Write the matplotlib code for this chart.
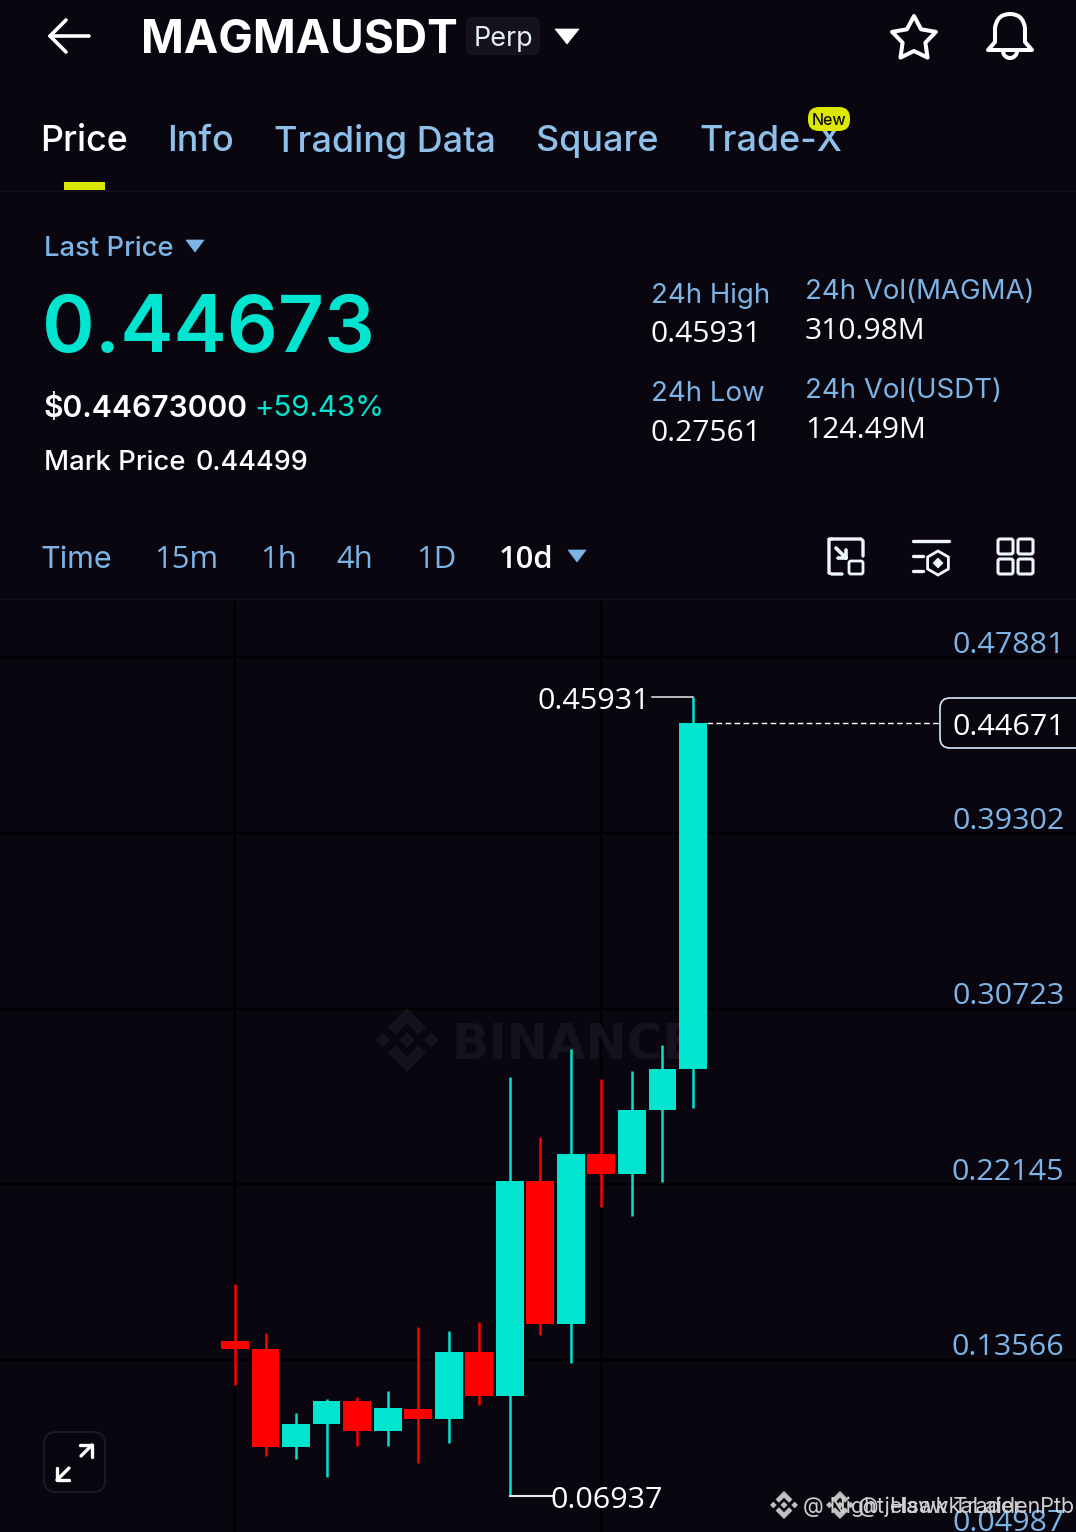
import numpy as np
import matplotlib
matplotlib.use("Agg")
import matplotlib.pyplot as plt
from matplotlib.patches import FancyBboxPatch, Polygon, Rectangle, PathPatch
from matplotlib.path import Path
from matplotlib.transforms import ScaledTranslation

plt.rcParams['font.family'] = ['Inter', 'DejaVu Sans']
NUM = ['Open Sans', 'DejaVu Sans']

BG = '#0A0610'; TEAL = '#00E4D0'; RED = '#FF0000'; BLUE = '#7DB4E6'; WHITE = '#FFFFFF'; YEL = '#DDE800'

opens = [.14489, .14112, .09295, .10434, .11542, .10077, .11181, .10692, .13936, .11802, .22320, .15334, .23624, .22662, .25759, .27777]
closes = [.14112, .09295, .10434, .11542, .10077, .11200, .10692, .13936, .11816, .22320, .15334, .23610, .22662, .25759, .27777, .44671]
highs = [.17273, .14865, .10956, .11669, .11738, .12060, .15173, .14962, .15417, .27401, .24440, .28769, .27303, .27665, .28964, .45931]
lows = [.12339, .08870, .08709, .07859, .09373, .09373, .08543, .09505, .11376, .06937, .14782, .13428, .21020, .20595, .22242, .25872]
candle_colors = ['r', 'r', 't', 't', 'r', 't', 'r', 't', 'r', 't', 'r', 't', 'r', 't', 't', 't']
price_ticks = [.47881, .39302, .30723, .22145, .13566, .04987]
time_grid = [0, 12]
high_label = .45931; low_label = .06937; last_price = .44671
tabs = ['Price', 'Info', 'Trading Data', 'Square', 'Trade-X']
intervals = ['Time', '15m', '1h', '4h', '1D', '10d']

W, H = 1076, 1532
fig = plt.figure(figsize=(W/100, H/100), dpi=100, facecolor=BG)

# ---- chart axes: y is price, x is candle index (bottom runs past the screen edge)
top_px, bot_px = 600, 1545
ax = fig.add_axes([0, (H-bot_px)/H, 1, (bot_px-top_px)/H], facecolor=BG)
k = (.47881-.04987)/(1535.5-657.5)
sp = 30.53
for s in ax.spines.values():
    s.set_visible(False)
ax.set_xticks(time_grid); ax.set_xticklabels([])
ax.yaxis.tick_right()
ax.set_yticks(price_ticks)
ax.set_yticklabels([f'{v:.5f}' for v in price_ticks], ha='right', color=BLUE, fontsize=30.5*.72, family=NUM)
ax.set_ylim(.47881-(bot_px-657.5)*k, .47881+(657.5-top_px)*k)
ax.set_xlim(-235/sp, (W-235)/sp)
ax.tick_params(length=0, axis='y', pad=-8.2)
ax.tick_params(length=0, axis='x')
ax.grid(True, color='#000000', lw=1.6, zorder=0)
ax.set_axisbelow(True)
off = ScaledTranslation(0, .155, fig.dpi_scale_trans)
for lab in ax.get_yticklabels():
    lab.set_transform(lab.get_transform()+off)

xs = np.arange(len(opens))
cols = [TEAL if c == 't' else RED for c in candle_colors]
ax.vlines(xs, lows, highs, colors=cols, lw=1.8, zorder=3)
ax.bar(xs, np.abs(np.array(closes)-np.array(opens)), bottom=np.minimum(opens, closes), width=.91, color=cols, zorder=4)

# leaders
ax.plot([15, 13.67], [high_label, high_label], color='#E8E8E8', lw=1.1, zorder=5)
ax.plot([9, 10.4], [low_label, low_label], color='#E8E8E8', lw=1.5, zorder=5)
ax.plot([15.45, 23.1], [last_price, last_price], color=WHITE, lw=1, dashes=(4, 2.5), zorder=5)
ax.annotate(f'{high_label:.5f}', (13.6, high_label), xytext=(0, -3.2), textcoords='offset points', color=WHITE, fontsize=30.5*.72, ha='right', va='center', zorder=6, family=NUM)
ax.annotate(f'{low_label:.5f}', (10.35, low_label), xytext=(0, -3.5), textcoords='offset points', color=WHITE, fontsize=30.5*.72, ha='left', va='center', zorder=6, family=NUM)

# ---- overlay in screen pixels for the app chrome
ui = fig.add_axes([0, 0, 1, 1], facecolor='none')
ui.set_xlim(0, W); ui.set_ylim(H, 0); ui.axis('off')

def T(x, y, s, px, color=WHITE, weight='normal', ha='left', z=10, alpha=1, **kw):
    dx = .04*px if ha == 'left' else 0
    return ui.text(x-dx, y+.09*px, s, fontsize=px*.72, color=color, fontweight=weight, ha=ha, va='center', zorder=z, alpha=alpha, **kw)

def L(xs_, ys_, color=WHITE, lw=2.2, z=10):
    ui.plot(xs_, ys_, color=color, lw=lw, solid_capstyle='round', solid_joinstyle='round', zorder=z)

def RR(x0, y0, x1, y1, r, fc='none', ec='none', lw=1.5, z=9):
    ui.add_patch(FancyBboxPatch((x0+r, y0+r), x1-x0-2*r, y1-y0-2*r, boxstyle=f'round,pad={r},rounding_size={r}',
                                fc=fc, ec=ec, lw=lw, zorder=z))

def TRI(x0, x1, y0, y1, color):
    ui.add_patch(Polygon([(x0, y0), (x1, y0), ((x0+x1)/2, y1)], fc=color, ec=color, lw=.5, zorder=10, joinstyle='round'))

# header
L([50, 89], [36, 36], lw=2.6); L([66, 50, 66], [20, 36, 52], lw=2.6)
T(143, 36.5, 'MAGMAUSDT', 46, weight='bold')
RR(466, 17, 540, 55, 6, fc='#15121C')
T(475, 37, 'Perp', 27, color='#E4EEF8')
TRI(555, 579, 29, 44, WHITE)
a = np.linspace(-np.pi/2, 1.5*np.pi, 11)
r = np.where(np.arange(11) % 2 == 0, 23, 12)
ui.add_patch(Polygon(np.c_[914+r*np.cos(a), 39+r*np.sin(a)], fc='none', ec=WHITE, lw=2.9, joinstyle='round', zorder=10))
bell = Path([(988, 50), (995, 42), (995, 28), (997, 14), (1010, 14), (1023, 14), (1025, 28), (1025, 42), (1032, 50), (988, 50)],
            [Path.MOVETO, Path.LINETO, Path.LINETO, Path.CURVE3, Path.CURVE3, Path.CURVE3, Path.CURVE3, Path.LINETO, Path.LINETO, Path.CLOSEPOLY])
ui.add_patch(PathPatch(bell, fc='none', ec=WHITE, lw=2.9, zorder=10, joinstyle='round'))
tt = np.linspace(0, np.pi, 20)
L(1010+7*np.cos(tt), 51+7*np.sin(tt), lw=2.9)

# tabs
tab_x = [42, 169, 275, 537, 701]
for i, (x, s) in enumerate(zip(tab_x, tabs)):
    T(x, 138, s, 35.9, color=WHITE if i == 0 else '#8FC0EA', weight='medium')
ui.add_patch(Rectangle((64, 182), 41, 8, fc=YEL, zorder=10))
RR(808, 107, 850, 131, 11, fc=YEL, z=11)
T(829, 119, 'New', 16, color='#111111', ha='center', z=12, weight='medium')
L([0, W], [190.5, 190.5], color='#15121C', lw=1)
L([0, W], [598.5, 598.5], color='#15121C', lw=1)

# stats
T(45, 247, 'Last Price', 27.4, color=BLUE, weight='medium')
TRI(186, 204, 240, 252, BLUE)
T(45, 324, '0.44673', 80, color=TEAL, weight='semibold')
T(45, 406, '$0.44673000', 30, weight='semibold')
T(255, 406, '+59.43%', 29.5, color=TEAL)
T(45, 461, 'Mark Price', 27.5, weight='medium')
T(197, 461, '0.44499', 27, weight='medium')
stats = [(652, 293, '24h High', BLUE, None), (652, 332, '0.45931', WHITE, NUM), (806, 290, '24h Vol(MAGMA)', BLUE, None), (806, 329, '310.98M', WHITE, NUM),
         (652, 392, '24h Low', BLUE, None), (652, 431, '0.27561', WHITE, NUM), (806, 389, '24h Vol(USDT)', BLUE, None), (806, 428, '124.49M', WHITE, NUM)]
for x, y, s, c, fam in stats:
    if fam:
        T(x, y, s, 30, color=c, family=fam)
    else:
        T(x, y, s, 27.6, color=c)

# interval row
for x, s in zip([42, 155, 261, 338, 417, 500], intervals):
    fam = NUM if s != 'Time' else ['Inter']
    T(x, 557, s, 31 if fam is NUM else 30.5, color=WHITE if s == '10d' else BLUE, weight='semibold' if s == '10d' else 'normal', family=fam)
TRI(568, 586, 550, 562, BLUE)

IC = '#F0F6FF'
L([832, 829, 829, 832, 842], [539, 539, 573, 574, 574], color=IC, lw=2.4)
L([832, 861, 863, 863], [539, 539, 541, 556], color=IC, lw=2.4)
L([836, 846], [548, 558], color=IC, lw=2.6); L([846, 846], [550, 558], color=IC, lw=2.6); L([838, 846], [558, 558], color=IC, lw=2.6)
RR(849, 561, 863, 574, 2, ec=IC, lw=2, z=10)
L([913, 949], [541, 541], color=IC, lw=2.4); L([913, 923], [556, 556], color=IC, lw=2.4); L([913, 923], [571, 571], color=IC, lw=2.4)
ah = np.arange(7)*np.pi/3+np.pi/2
ui.add_patch(Polygon(np.c_[938+12*np.cos(ah), 563+12*np.sin(ah)], fc='none', ec=IC, lw=2, zorder=10))
ui.add_patch(Polygon([(938, 558), (943, 563), (938, 568), (933, 563)], fc=IC, ec=IC, lw=.5, zorder=10))
for x0 in (998, 1018):
    for y0 in (539, 559):
        RR(x0, y0, x0+15, y0+15, 2, ec=IC, lw=2.2, z=10)

# last price box
RR(940, 698, 1090, 748, 10, fc=BG, ec='#D8E8F8', lw=1.2, z=9)
T(954, 725, f'{last_price:.5f}', 30.5, z=10, family=NUM)

# expand button
RR(44, 1432, 105, 1492, 12, fc=BG, ec='#1B1922', lw=1.5)
L([57, 69], [1480, 1468], lw=2.4); L([81, 92], [1456, 1445], lw=2.4)
L([80, 92, 92], [1445, 1445, 1457], lw=2.4); L([57, 57, 69], [1468, 1480, 1480], lw=2.4)

# watermarks
def logo(cx, cy, s, color, z):
    def P(pts):
        ui.add_patch(Polygon([(cx+px_*s, cy+py_*s) for px_, py_ in pts], fc=color, ec='none', zorder=z))
    P([(0, -1), (.6, -.4), (.36, -.16), (0, -.52), (-.36, -.16), (-.6, -.4)])
    P([(0, 1), (.6, .4), (.36, .16), (0, .52), (-.36, .16), (-.6, .4)])
    P([(.25, 0), (0, -.25), (-.25, 0), (0, .25)])
    for sx in (-1, 1):
        P([(sx*.76+.24, 0), (sx*.76, -.24), (sx*.76-.24, 0), (sx*.76, .24)])

wm = '#15111D'
logo(407, 1040, 32, wm, 1)
ui.set_zorder(ax.get_zorder()+1)
ax.text((452-235)/sp, .47881-(1045-657.5)*k, 'BINANCE', fontsize=49*.72, color=wm, fontweight='bold', ha='left', va='center',
        zorder=2, family='DejaVu Sans')
logo(784, 1505, 14, '#C0C0C0', 8)
logo(840, 1505, 14, '#C0C0C0', 8)
T(804, 1505, '@ Night Hawk Trader', 21.5, color='#D0D0D0', z=8)
T(859, 1505, '@ jelsawkaLaidenPtb', 21.5, color='#D0D0D0', z=8)

fig.savefig('out.png', dpi=100, facecolor=BG)
